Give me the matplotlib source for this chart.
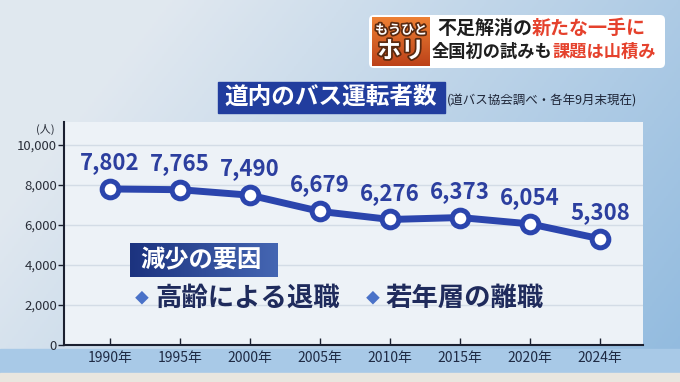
import numpy as np
import matplotlib.pyplot as plt
from matplotlib.patches import Rectangle, FancyBboxPatch
import matplotlib.patheffects as pe

plt.rcParams['font.family'] = ['Noto Sans CJK JP', 'DejaVu Sans']

years = ['1990年', '1995年', '2000年', '2005年', '2010年', '2015年', '2020年', '2024年']
drivers = [7802, 7765, 7490, 6679, 6276, 6373, 6054, 5308]
y_ticks = [0, 2000, 4000, 6000, 8000, 10000]

title = '道内のバス運転者数'
source = '(道バス協会調べ・各年9月末現在)'
reasons = ['高齢による退職', '若年層の離職']

W, H = 680, 382
blue = '#2b45ad'
navy = '#1f2b5c'

fig = plt.figure(figsize=(W / 100, H / 100), dpi=100)

# background gradient, drawn in pixel coordinates
bg = fig.add_axes([0, 0, 1, 1], zorder=-10)
xx, yy = np.meshgrid(np.linspace(0, 1, 340), np.linspace(0, 1, 191))
t = np.clip(0.8 * xx + 0.35 * yy - 0.2, 0, 1)
c1 = np.array([0.88, 0.91, 0.94])
c2 = np.array([0.55, 0.72, 0.87])
bg.imshow(c1 + (c2 - c1) * t[..., None], extent=[0, W, H, 0], aspect='auto')
bg.add_patch(Rectangle((0, 349), W, 24, color='#a8c9e7', zorder=2))
bg.add_patch(Rectangle((0, 373), W, 9, color='#e9e6df', zorder=2))
bg.set_xlim(0, W)
bg.set_ylim(H, 0)
bg.set_axis_off()

# main chart
ax = fig.add_axes([64 / W, 1 - 345 / H, (643 - 64) / W, (345 - 122) / H])
ax.set_facecolor('#edf2f7')
x = np.arange(len(years))
ax.plot(x, drivers, color=blue, lw=5, marker='o', ms=12, mfc='white',
        mec=blue, mew=3.6, zorder=3)
for xi, v in zip(x, drivers):
    ax.annotate(f'{v:,}', (xi, v), xytext=(0, 19), textcoords='offset points',
                ha='center', va='center', fontsize=16, fontweight='bold',
                color='#2c3f9f')

ax.set_xlim(-0.657, 7.61)
ax.set_ylim(0, 11150)
ax.set_xticks(x)
ax.set_xticklabels(years, fontsize=10, color='#1f2a44')
ax.set_yticks(y_ticks)
ax.set_yticklabels([f'{v:,}' for v in y_ticks], fontsize=9.5, color='#2a2f3a')
ax.tick_params(axis='x', direction='in', length=5, width=1, color='#1b2030', pad=4)
ax.tick_params(axis='y', direction='out', length=4, width=1, color='#1b2030', pad=1)
ax.yaxis.grid(True, color='#d3dce6', lw=1)
ax.set_axisbelow(True)
for s in ['top', 'right']:
    ax.spines[s].set_visible(False)
for s in ['left', 'bottom']:
    ax.spines[s].set_color('#1b2030')
    ax.spines[s].set_linewidth(1.5)

# overlay for boxes and captions, pixel coordinates
ov = fig.add_axes([0, 0, 1, 1], zorder=5)
ov.set_xlim(0, W)
ov.set_ylim(H, 0)
ov.set_axis_off()
ov.patch.set_alpha(0)

ov.text(45, 129, '(人)', fontsize=8, ha='center', va='center', color='#2a2f3a')

# title
ov.add_patch(Rectangle((218, 82), 227, 31, color='#213d9e'))
ov.text(331, 97, title, color='white', fontsize=17, fontweight='bold',
        ha='center', va='center')
ov.text(447, 101, source, fontsize=9, color='#1d2436', va='center')

# top right banner
ov.add_patch(FancyBboxPatch((369, 15), 296, 53, boxstyle='round,pad=0,rounding_size=5',
                            fc='white', ec='none'))
ograd = np.linspace(0, 1, 50)[:, None] * np.ones((1, 10))
oc1 = np.array([0.93, 0.50, 0.20])
oc2 = np.array([0.74, 0.26, 0.10])
ov.imshow(oc1 + (oc2 - oc1) * ograd[..., None], extent=[372, 430, 66, 17], aspect='auto', zorder=2)
stroke = [pe.withStroke(linewidth=2.5, foreground='#5a2a10')]
ov.text(401, 30, 'もうひと', fontsize=9.4, fontweight='bold', color='white',
        ha='center', va='center', path_effects=stroke, zorder=3)
ov.text(401, 51, 'ホリ', fontsize=17, fontweight='bold', color='white',
        ha='center', va='center', path_effects=stroke, zorder=3)

lines = [('不足解消の', '新たな一手に', 437, 28, 13.7),
         ('全国初の試みも', '課題は山積み', 432, 52, 12.4)]
for dark, red, x0, yc, fs in lines:
    ov.text(x0, yc, dark, fontsize=fs, fontweight='bold', color='#1e1e1e', va='center')
    ov.text(x0 + len(dark) * fs * 100 / 72, yc, red, fontsize=fs, fontweight='bold',
            color='#e5412c', va='center')

# reasons box
fgrad = np.ones((10, 1)) * np.linspace(0, 1, 60)[None, :]
fc1 = np.array([0.11, 0.20, 0.50])
fc2 = np.array([0.27, 0.40, 0.70])
ov.imshow(fc1 + (fc2 - fc1) * fgrad[..., None], extent=[130, 278, 277, 243], aspect='auto')
ov.text(140, 260, '減少の要因', fontsize=17.5, fontweight='bold', color='white', va='center')

for dx, tx, txt in [(142, 155, reasons[0]), (373, 385, reasons[1])]:
    ov.text(dx, 299, '◆', fontsize=10, color='#4a72c8', ha='center', va='center')
    ov.text(tx, 298, txt, fontsize=19, fontweight='bold', color=navy, va='center')

fig.savefig('out.png', dpi=100)
